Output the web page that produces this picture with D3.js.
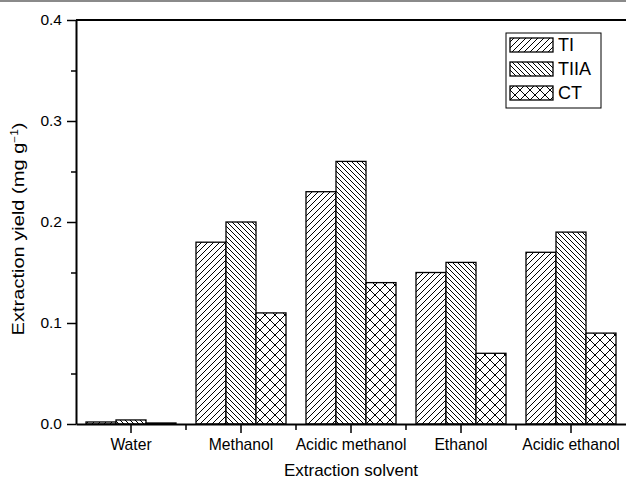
<!DOCTYPE html>
<html><head><meta charset="utf-8">
<script src="https://cdn.jsdelivr.net/npm/d3@7"></script>
<style>
html,body{margin:0;padding:0;background:#fff;}
svg{display:block;font-family:"Liberation Sans",Arial,Helvetica,sans-serif;}
</style></head>
<body>
<svg id="chart" width="626" height="484"></svg>
<script>
const categories = ["Water", "Methanol", "Acidic methanol", "Ethanol", "Acidic ethanol"];
const seriesNames = ["TI", "TIIA", "CT"];
const TI   = [0.002, 0.18, 0.23, 0.15, 0.17];
const TIIA = [0.004, 0.20, 0.26, 0.16, 0.19];
const CT   = [0.001, 0.11, 0.14, 0.07, 0.09];
const yTicks = [0, 0.1, 0.2, 0.3, 0.4];
const yMinorTicks = [0.05, 0.15, 0.25, 0.35];
const xTitle = "Extraction solvent";

const seriesValues = {TI, TIIA, CT};
const svg = d3.select("#chart");
const W = 626, H = 484;
const m = {left: 76, right: 0, top: 20, bottom: 60};

// scan artifact line at the very top
svg.append("line").attr("x1",0).attr("x2",W).attr("y1",1).attr("y2",1)
  .attr("stroke","#8a8a8a").attr("stroke-width",2);

const defs = svg.append("defs");
function hatch(id, size, dirs){
  const p = defs.append("pattern").attr("id",id).attr("patternUnits","userSpaceOnUse")
    .attr("width",size).attr("height",size);
  p.append("rect").attr("width",size).attr("height",size).attr("fill","#fff");
  const s=size;
  dirs.forEach(d=>{
    const path = d==="/" ? `M0,${s} L${s},0 M${-s/2},${s/2} L${s/2},${-s/2} M${s/2},${s*1.5} L${s*1.5},${s/2}`
                          : `M0,0 L${s},${s} M${-s/2},${s/2} L${s/2},${s*1.5} M${s/2},${-s/2} L${s*1.5},${s/2}`;
    p.append("path").attr("d",path).attr("stroke","#000").attr("stroke-width",1).attr("fill","none");
  });
}
hatch("pTI", 6, ["/"]);
hatch("pTIIA", 5, ["\\"]);
hatch("pCT", 10, ["/","\\"]);
const fills = {TI:"url(#pTI)", TIIA:"url(#pTIIA)", CT:"url(#pCT)"};

const x0 = d3.scaleBand().domain(categories).range([m.left, W - m.right]).padding(0);
const x1 = d3.scaleBand().domain(seriesNames).range([x0.bandwidth()*10/110, x0.bandwidth()*100/110]).padding(0);
const y = d3.scaleLinear().domain([0, 0.4]).range([H - m.bottom, m.top]);

// bars
const g = svg.append("g");
categories.forEach((c,i)=>{
  seriesNames.forEach(s=>{
    const v = seriesValues[s][i];
    g.append("rect")
      .attr("x", x0(c)+x1(s)).attr("width", x1.bandwidth())
      .attr("y", y(v)).attr("height", y(0)-y(v))
      .attr("fill", fills[s]).attr("stroke","#000").attr("stroke-width",1.3);
  });
});

// top border
svg.append("line").attr("x1",m.left).attr("x2",W).attr("y1",y(0.4)).attr("y2",y(0.4))
  .attr("stroke","#000").attr("stroke-width",2);

// y axis
const yAxis = svg.append("g").attr("transform",`translate(${m.left},0)`)
  .call(d3.axisLeft(y).tickValues(yTicks).tickSize(9).tickSizeOuter(0).tickPadding(5).tickFormat(d3.format(".1f")));
yAxis.select(".domain").attr("stroke-width",2);
yAxis.selectAll(".tick line").attr("stroke-width",1.5);
yAxis.selectAll("text").attr("font-size",15.5).attr("fill","#000");
const yMinor = svg.append("g").attr("transform",`translate(${m.left},0)`)
  .call(d3.axisLeft(y).tickValues(yMinorTicks).tickSize(5).tickSizeOuter(0).tickFormat(""));
yMinor.select(".domain").remove();
yMinor.selectAll(".tick line").attr("stroke-width",1.5);

// x axis
const xAxis = svg.append("g").attr("transform",`translate(0,${y(0)})`)
  .call(d3.axisBottom(x0).tickSize(9).tickSizeOuter(0).tickPadding(6));
xAxis.select(".domain").attr("stroke-width",2);
xAxis.selectAll(".tick line").attr("stroke-width",1.5);
xAxis.selectAll("text").attr("font-size",15.7).attr("fill","#000");
const xMinor = svg.append("g").attr("transform",`translate(0,${y(0)})`);
categories.slice(0,-1).forEach(c=>{
  const xx = x0(c)+x0.bandwidth();
  xMinor.append("line").attr("x1",xx).attr("x2",xx).attr("y1",0).attr("y2",6)
    .attr("stroke","#000").attr("stroke-width",1.5);
});

// axis titles
svg.append("text").attr("x",(m.left+W)/2).attr("y",476).attr("text-anchor","middle")
  .attr("font-size",17).text(xTitle);
const yt = svg.append("text").attr("transform",`translate(24,229) rotate(-90) scale(1.18,1)`)
  .attr("text-anchor","middle").attr("font-size",17);
yt.append("tspan").text("Extraction yield (mg g");
yt.append("tspan").attr("dy",-6).attr("font-size",10).text("\u22121");
yt.append("tspan").attr("dy",6).text(")");

// legend
const lg = svg.append("g");
lg.append("rect").attr("x",506).attr("y",33).attr("width",95).attr("height",75)
  .attr("fill","#fff").attr("stroke","#000").attr("stroke-width",1);
seriesNames.forEach((s,i)=>{
  const yy = 38 + i*24;
  lg.append("rect").attr("x",510).attr("y",yy).attr("width",43).attr("height",14)
    .attr("fill",fills[s]).attr("stroke","#000").attr("stroke-width",1.3);
  lg.append("text").attr("x",558).attr("y",yy+13).attr("font-size",18).text(s);
});
</script>
</body></html>
